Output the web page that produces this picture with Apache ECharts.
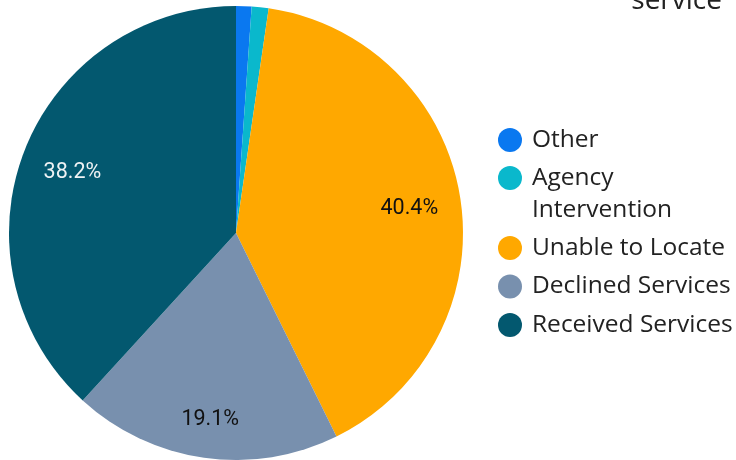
<!DOCTYPE html>
<html>
<head>
<meta charset="utf-8">
<script src="https://cdn.jsdelivr.net/npm/echarts@6/dist/echarts.min.js"></script>
<style>
  html, body { margin: 0; padding: 0; background: #fff; }
  #chart { width: 736px; height: 460px; }
</style>
</head>
<body>
<div id="chart"></div>
<script>
  // categories and shares (percent), clockwise from 12 o'clock
  const categories = ['Other', 'Agency\nIntervention', 'Unable to Locate', 'Declined Services', 'Received Services'];
  const shares = [1.1, 1.2, 40.4, 19.1, 38.2];
  const colors = ['#0a78f0', '#0ab8cc', '#ffa800', '#7890ae', '#03586f'];
  const labelColors = ['#111', '#111', '#111', '#111', '#eef2f4'];

  const chart = echarts.init(document.getElementById('chart'));

  const pieData = categories.map((c, i) => ({
    name: c,
    value: shares[i],
    itemStyle: { color: colors[i] }
  }));

  // transparent copy only used to place the % labels further out
  const labelData = categories.map((c, i) => ({
    name: c,
    value: shares[i],
    label: {
      show: shares[i] >= 5,
      color: labelColors[i],
      offset: i === 3 ? [-1, 13] : [0, 3]
    }
  }));

  const legendBase = {
    orient: 'vertical',
    left: 493,
    icon: 'circle',
    itemWidth: 24,
    itemHeight: 24,
    itemGap: 6.5,
    textStyle: {
      fontFamily: 'Open Sans', fontSize: 24.5, color: '#222',
      lineHeight: 32, padding: [0, 0, 0, 5]
    }
  };

  chart.setOption({
    animation: false,
    title: {
      text: 'service',
      right: 9,
      top: -18,
      textStyle: { fontFamily: 'Open Sans', fontWeight: 'normal', fontSize: 28, color: '#222' }
    },
    legend: [
      Object.assign({}, legendBase, { top: 119, data: [categories[0]] }),
      // leading blank line keeps the icon level with the first text line
      Object.assign({}, legendBase, { top: 125, data: [categories[1]], formatter: n => '\n' + n }),
      Object.assign({}, legendBase, { top: 227, data: categories.slice(2) })
    ],
    series: [
      {
        type: 'pie',
        center: [236, 233],
        radius: [0, 227],
        startAngle: 90,
        clockwise: true,
        label: { show: false },
        labelLine: { show: false },
        emphasis: { disabled: true },
        data: pieData
      },
      {
        type: 'pie',
        center: [236, 233],
        radius: [118, 227],
        startAngle: 90,
        clockwise: true,
        silent: true,
        legendHoverLink: false,
        itemStyle: { color: 'transparent' },
        label: {
          position: 'inside',
          fontFamily: 'Roboto',
          fontSize: 21.5,
          formatter: p => p.value.toFixed(1) + '%'
        },
        labelLine: { show: false },
        data: labelData
      }
    ]
  });
</script>
</body>
</html>
